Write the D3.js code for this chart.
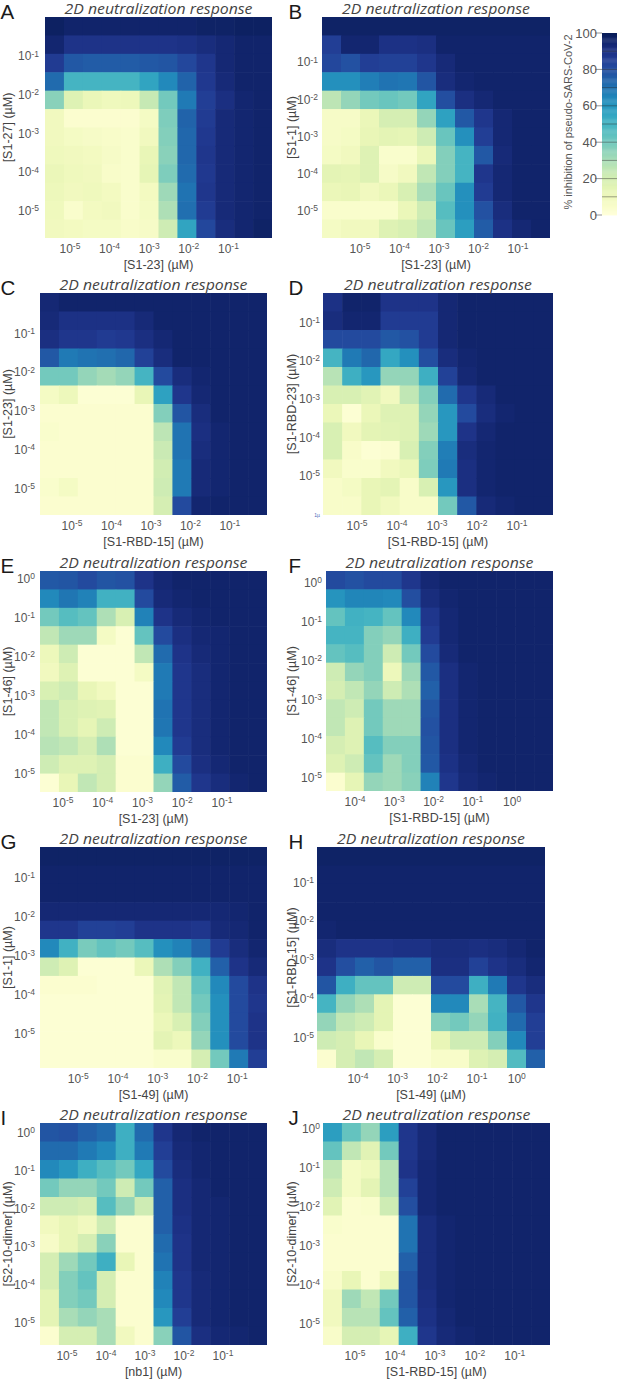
<!DOCTYPE html>
<html>
<head>
<meta charset="utf-8">
<script src="https://cdn.jsdelivr.net/npm/d3@7"></script>
<style>
  body { margin: 0; background: #fff; }
  svg { display: block; }
</style>
</head>
<body>
<svg id="chart" width="617" height="1381"></svg>
<script>
// % inhibition, rows = top (highest conc) to bottom, cols = left to right
const valsA = [
  [98,96,96,96,96,96,96,96,97,97,98,98],
  [95,89,89,89,89,89,89,90,92,94,96,96],
  [86,77,76,76,76,77,78,82,88,94,96,96],
  [72,50,50,50,50,56,64,74,87,93,96,96],
  [36,17,12,10,11,24,40,68,85,91,95,96],
  [9,3,3,3,3,7,38,74,86,93,95,96],
  [9,7,6,5,4,9,37,73,87,93,95,96],
  [10,9,8,6,4,13,36,73,88,93,95,96],
  [12,10,9,5,4,14,38,72,87,93,95,96],
  [11,9,10,8,4,8,32,70,88,93,95,96],
  [10,4,8,9,4,7,29,71,86,93,95,96],
  [9,8,7,7,5,6,22,56,82,92,95,97]
];
const valsB = [
  [97,97,97,97,97,97,97,97,97,97,97,97],
  [85,95,95,90,90,91,96,96,96,96,96,96],
  [82,79,85,84,84,88,93,96,96,96,96,96],
  [62,62,67,70,69,78,92,95,96,96,96,96],
  [26,34,40,42,40,56,80,91,94,96,96,96],
  [6,6,12,20,20,34,57,77,88,94,96,96],
  [6,7,13,15,14,22,42,62,85,94,96,96],
  [7,9,17,4,4,12,37,50,77,93,96,96],
  [15,14,17,6,9,25,37,50,88,94,96,96],
  [12,13,9,12,19,30,42,62,86,94,96,96],
  [4,4,4,4,12,22,46,62,79,92,96,96],
  [7,9,9,17,19,25,42,58,76,90,94,96]
];
const valsC = [
  [94,96,96,96,96,96,96,96,96,96,96,96],
  [93,90,90,90,90,93,96,96,96,96,96,96],
  [91,88,88,86,87,91,94,96,96,96,96,96],
  [77,68,70,71,73,84,92,96,96,96,96,96],
  [40,40,34,31,34,50,81,92,95,96,96,96],
  [7,11,2,2,2,13,57,88,94,96,96,96],
  [3,3,3,3,3,3,37,78,92,96,96,96],
  [4,3,3,3,3,3,26,70,91,95,96,96],
  [3,3,3,3,3,3,23,70,92,95,96,96],
  [3,3,3,3,3,3,21,68,93,95,96,96],
  [4,7,3,3,3,3,22,68,93,95,96,96],
  [3,3,3,3,3,3,20,81,95,96,96,96]
];
const valsD = [
  [90,96,96,89,89,89,94,96,96,96,96,96],
  [92,95,95,86,86,86,94,96,96,96,96,96],
  [81,81,81,77,79,86,94,96,96,96,96,96],
  [50,68,73,55,62,80,92,95,96,96,96,96],
  [27,52,60,34,34,52,84,94,96,96,96,96],
  [19,19,16,9,25,37,72,88,93,96,96,96],
  [12,2,12,17,17,34,60,81,92,95,96,96],
  [19,9,15,16,17,32,60,89,94,96,96,96],
  [19,5,2,3,19,37,67,92,95,96,96,96],
  [9,4,4,9,12,38,68,91,95,96,96,96],
  [5,7,13,15,5,19,60,91,95,96,96,96],
  [5,5,13,9,5,5,40,77,93,95,96,96]
];
const valsE = [
  [77,78,81,78,79,89,94,96,96,96,96,96],
  [64,69,66,51,51,81,93,95,96,96,96,96],
  [40,46,43,29,19,66,89,93,95,96,96,96],
  [25,32,32,7,2,43,81,91,94,95,96,96],
  [11,22,2,2,2,25,72,89,93,95,96,96],
  [9,17,2,2,2,7,68,88,92,95,96,96],
  [19,22,13,9,2,2,68,88,92,95,96,96],
  [25,19,17,16,2,2,70,88,92,95,96,96],
  [25,19,14,22,2,2,69,88,92,95,96,96],
  [27,25,20,29,2,2,64,86,92,95,96,96],
  [22,17,17,20,3,3,52,81,91,94,96,96],
  [2,13,25,20,3,3,34,76,88,92,95,96]
];
const valsF = [
  [81,79,81,81,88,94,96,96,96,96,96,96],
  [61,65,65,64,80,92,95,96,96,96,96,96],
  [43,51,50,43,64,88,94,96,96,96,96,96],
  [50,50,37,34,52,86,94,96,96,96,96,96],
  [43,46,37,22,40,81,93,96,96,96,96,96],
  [22,34,37,11,32,77,91,95,96,96,96,96],
  [20,25,34,22,29,75,91,95,96,96,96,96],
  [25,22,40,32,32,78,91,95,96,96,96,96],
  [25,17,40,32,32,79,91,95,96,96,96,96],
  [20,17,46,37,37,78,91,95,96,96,96,96],
  [17,22,43,32,37,77,90,94,96,96,96,96],
  [3,14,34,32,36,66,88,93,95,96,96,96]
];
const valsG = [
  [97,97,97,97,97,97,97,97,97,97,97,97],
  [96,96,96,96,96,96,96,96,96,96,96,96],
  [96,96,96,96,96,96,96,96,96,96,96,96],
  [94,94,94,94,94,94,94,94,94,94,95,96],
  [88,88,84,84,85,89,89,89,88,93,94,96],
  [64,51,39,43,40,46,62,66,74,86,92,95],
  [22,17,2,2,2,12,29,37,51,75,89,93],
  [3,3,3,2,2,2,16,25,43,64,81,89],
  [2,2,2,2,2,2,15,25,40,62,81,88],
  [2,2,2,2,2,2,12,19,37,62,81,89],
  [2,2,2,2,2,2,15,11,34,62,81,89],
  [2,2,2,2,2,2,4,4,20,40,68,85]
];
const valsH = [
  [97,97,97,97,97,97,97,97,97,97,97,97],
  [96,96,96,96,96,96,96,96,96,96,96,96],
  [96,96,96,96,96,96,96,96,96,96,96,96],
  [96,96,96,96,96,96,96,96,96,96,96,96],
  [95,96,96,96,96,96,96,96,96,96,96,96],
  [92,89,89,89,90,90,92,92,91,92,94,96],
  [89,80,75,78,75,75,91,91,84,89,92,95],
  [78,52,43,43,22,22,81,81,52,68,88,92],
  [50,34,29,15,2,2,64,64,30,50,77,88],
  [34,25,22,15,2,2,37,40,34,51,72,85],
  [22,20,13,4,2,2,13,22,22,37,64,85],
  [3,20,25,20,2,2,5,5,17,20,47,75]
];
const valsI = [
  [78,79,75,72,52,72,88,94,96,96,96,96],
  [72,72,68,64,52,68,85,93,95,96,96,96],
  [64,60,52,46,40,55,81,92,95,96,96,96],
  [40,34,34,40,22,40,75,91,94,96,96,96],
  [22,22,20,46,34,22,75,91,94,95,96,96],
  [9,13,9,22,3,3,75,90,94,95,96,96],
  [6,13,20,36,3,3,72,89,94,95,96,96],
  [20,32,40,52,13,3,70,89,94,95,96,96],
  [20,37,43,20,3,3,66,88,93,95,96,96],
  [15,37,40,20,3,3,64,88,93,95,96,96],
  [15,30,34,30,3,3,60,85,93,95,96,96],
  [3,20,20,30,9,3,36,78,91,94,95,96]
];
const valsJ = [
  [58,43,34,58,88,93,96,96,96,96,96,96],
  [43,25,16,40,88,93,96,96,96,96,96,96],
  [25,7,10,27,89,94,96,96,96,96,96,96],
  [22,7,15,27,84,94,96,96,96,96,96,96],
  [16,3,4,22,80,94,96,96,96,96,96,96],
  [4,3,3,3,70,92,95,96,96,96,96,96],
  [3,3,3,3,70,92,95,96,96,96,96,96],
  [3,3,3,3,75,92,95,96,96,96,96,96],
  [5,13,3,12,78,92,95,96,96,96,96,96],
  [9,32,25,40,78,91,95,96,96,96,96,96],
  [9,27,27,43,75,90,94,96,96,96,96,96],
  [5,20,20,14,52,88,93,95,96,96,96,96]
];

const panelIds = ["A","B","C","D","E","F","G","H","I","J"];
const panelVals = [valsA, valsB, valsC, valsD, valsE, valsF, valsG, valsH, valsI, valsJ];
const xLabels = ["[S1-23] (µM)","[S1-23] (µM)","[S1-RBD-15] (µM)","[S1-RBD-15] (µM)","[S1-23] (µM)",
                 "[S1-RBD-15] (µM)","[S1-49] (µM)","[S1-49] (µM)","[nb1] (µM)","[S1-RBD-15] (µM)"];
const yLabels = ["[S1-27] (µM)","[S1-1] (µM)","[S1-23] (µM)","[S1-RBD-23] (µM)","[S1-46] (µM)",
                 "[S1-46] (µM)","[S1-1] (µM)","[S1-RBD-15] (µM)","[S2-10-dimer] (µM)","[S2-10-dimer] (µM)"];
// tick exponents (10^n)
const xTickExp = [[-5,-4,-3,-2,-1],[-5,-4,-3,-2,-1],[-5,-4,-3,-2,-1],[-5,-4,-3,-2,-1],[-5,-4,-3,-2,-1],
                  [-4,-3,-2,-1,0],[-5,-4,-3,-2,-1],[-4,-3,-2,-1,0],[-5,-4,-3,-2,-1],[-5,-4,-3,-2,-1]];
const yTickExp = [[-1,-2,-3,-4,-5],[-1,-2,-3,-4,-5],[-1,-2,-3,-4,-5],[-1,-2,-3,-4,-5],[0,-1,-2,-3,-4,-5],
                  [0,-1,-2,-3,-4,-5],[-1,-2,-3,-4,-5],[-1,-2,-3,-4,-5],[0,-1,-2,-3,-4,-5],[0,-1,-2,-3,-4,-5]];
// log10(µM) at the edges of each heatmap
const xExtent = [[-5.63,0.1],[-5.96,-0.19],[-5.81,-0.06],[-5.85,-0.1],[-5.58,0.13],
                 [-4.74,1.04],[-5.96,-0.25],[-5.03,0.71],[-5.69,0.13],[-5.8,-0.12]];
const yExtent = [[-5.72,0],[-5.75,0.2],[-5.7,0.03],[-6.04,-0.24],[-5.49,0.18],
                 [-5.36,0.28],[-5.9,-0.23],[-5.8,-0.1],[-5.6,0.24],[-5.56,0.13]];
const titleText = "2D neutralization response";
const cbarLabel = "% inhibition of pseudo-SARS-CoV-2";
const cbarTicks = [0,20,40,60,80,100];

// plot boxes (layout); ox = left edge of the panel column, gap = tick label gap
const boxes = [
  {x:45, y:17, w:227, h:221, ox:0, gap:6},    {x:322, y:17, w:228, h:221, ox:288, gap:4},
  {x:40, y:293, w:227, h:222, ox:0, gap:5},   {x:323, y:293, w:230, h:222, ox:288, gap:3},
  {x:40, y:571, w:227, h:221, ox:0, gap:5},   {x:326, y:571, w:227, h:220, ox:288, gap:4},
  {x:40, y:847, w:227, h:221, ox:0, gap:5},   {x:317, y:847, w:228, h:221, ox:288, gap:3},
  {x:40, y:1123, w:227, h:222, ox:0, gap:5},  {x:323, y:1123, w:227, h:222, ox:288, gap:3}
];

const svg = d3.select("#chart");
const color = d3.scaleSequential(d3.interpolateYlGnBu).domain([0, 100]);
const labelFont = "'Liberation Sans', Arial, sans-serif";

panelIds.forEach((id, i) => drawPanel(i));
drawColorbar();

function expText(sel, e) {
  sel.append("tspan").text("10");
  sel.append("tspan").attr("font-size", 8.5).attr("dy", "-0.45em").text(e === 0 ? "0" : "-" + Math.abs(e));
}

function drawPanel(i) {
  const b = boxes[i], vals = panelVals[i];
  const g = svg.append("g").attr("class", "panel");

  const col = d3.scaleBand().domain(d3.range(vals[0].length)).range([b.x, b.x + b.w]);
  const row = d3.scaleBand().domain(d3.range(vals.length)).range([b.y, b.y + b.h]);
  const x = d3.scaleLinear().domain(xExtent[i]).range([b.x, b.x + b.w]);
  const y = d3.scaleLinear().domain(yExtent[i]).range([b.y + b.h, b.y]);

  const clipId = "clip" + i;
  g.append("clipPath").attr("id", clipId).append("rect")
    .attr("x", b.x).attr("y", b.y).attr("width", b.w).attr("height", b.h);

  g.append("g").attr("clip-path", "url(#" + clipId + ")")
    .selectAll("g").data(vals).join("g")
    .each(function(r, ri) {
      d3.select(this).selectAll("rect").data(r).join("rect")
        .attr("x", (d, ci) => col(ci))
        .attr("y", row(ri))
        .attr("width", col.bandwidth() + 0.6)
        .attr("height", row.bandwidth() + 0.6)
        .attr("fill", d => color(d));
    });

  // title
  g.append("text")
    .attr("x", b.x + b.w / 2).attr("y", b.y - 3.5)
    .attr("text-anchor", "middle")
    .attr("font-family", "'Open Sans', 'Noto Sans', sans-serif")
    .attr("font-style", "italic")
    .attr("font-size", 14.5)
    .attr("fill", "#444")
    .attr("textLength", 188).attr("lengthAdjust", "spacingAndGlyphs")
    .text(titleText);

  // panel letter
  g.append("text")
    .attr("x", b.ox + 0.5).attr("y", b.y + 2)
    .attr("font-family", labelFont)
    .attr("font-size", 20.5)
    .attr("fill", "#1a1a1a")
    .text(panelIds[i]);

  // x ticks
  g.selectAll(".xt").data(xTickExp[i]).join("text")
    .attr("class", "xt")
    .attr("x", d => x(d)).attr("y", b.y + b.h + 15)
    .attr("text-anchor", "middle")
    .attr("font-family", labelFont).attr("font-size", 12).attr("fill", "#555")
    .each(function(d) { expText(d3.select(this), d); });

  // y ticks
  g.selectAll(".yt").data(yTickExp[i]).join("text")
    .attr("class", "yt")
    .attr("x", b.x - b.gap).attr("y", d => y(d)).attr("dy", "0.4em")
    .attr("text-anchor", "end")
    .attr("font-family", labelFont).attr("font-size", 12).attr("fill", "#555")
    .each(function(d) { expText(d3.select(this), d); });

  // axis labels
  g.append("text")
    .attr("x", b.x + b.w / 2).attr("y", b.y + b.h + 31)
    .attr("text-anchor", "middle")
    .attr("font-family", labelFont).attr("font-size", 12.5).attr("fill", "#444")
    .text(xLabels[i]);

  g.append("text")
    .attr("transform", "translate(" + (b.ox + (b.ox ? 3.5 : 7.5)) + "," + (b.y + b.h / 2) + ") rotate(-90)")
    .attr("dy", "0.35em")
    .attr("text-anchor", "middle")
    .attr("font-family", labelFont).attr("font-size", 12.5).attr("fill", "#444")
    .text(yLabels[i]);

  // stray label left in panel D of the original figure
  if (panelIds[i] === "D") {
    g.append("text")
      .attr("x", b.x - 3).attr("y", b.y + b.h + 2)
      .attr("text-anchor", "end")
      .attr("font-family", labelFont).attr("font-size", 5).attr("fill", "#4a66b8")
      .text("1µ");
  }
}

function drawColorbar() {
  const g = svg.append("g").attr("class", "colorbar");
  const bx = 602, bw = 16;
  const cy = d3.scaleLinear().domain([0, 100]).range([215, 33]);
  const steps = d3.range(0, 100, 0.5);

  g.selectAll("rect").data(steps).join("rect")
    .attr("x", bx).attr("width", bw)
    .attr("y", d => cy(d + 0.5)).attr("height", cy(0) - cy(0.5) + 0.4)
    .attr("fill", d => color(d + 0.25));

  g.selectAll(".cline").data(d3.range(10, 100, 10)).join("line")
    .attr("class", "cline")
    .attr("x1", bx).attr("x2", bx + bw)
    .attr("y1", d => cy(d)).attr("y2", d => cy(d))
    .attr("stroke", "#2a2a2a").attr("stroke-opacity", 0.55).attr("stroke-width", 0.8);

  g.selectAll(".ctick").data(cbarTicks).join("line")
    .attr("class", "ctick")
    .attr("x1", bx - 7).attr("x2", bx)
    .attr("y1", d => cy(d)).attr("y2", d => cy(d))
    .attr("stroke", "#777").attr("stroke-width", 0.8);

  g.selectAll(".clab").data(cbarTicks).join("text")
    .attr("class", "clab")
    .attr("x", bx - 5).attr("y", d => cy(d)).attr("dy", "0.36em")
    .attr("text-anchor", "end")
    .attr("font-family", labelFont).attr("font-size", 13).attr("fill", "#555")
    .text(d => d);

  g.append("text")
    .attr("transform", "translate(568," + 122 + ") rotate(-90)")
    .attr("dy", "0.35em")
    .attr("text-anchor", "middle")
    .attr("font-family", labelFont).attr("font-size", 11.5).attr("fill", "#555")
    .attr("textLength", 175).attr("lengthAdjust", "spacingAndGlyphs")
    .text(cbarLabel);
}
</script>
</body>
</html>
